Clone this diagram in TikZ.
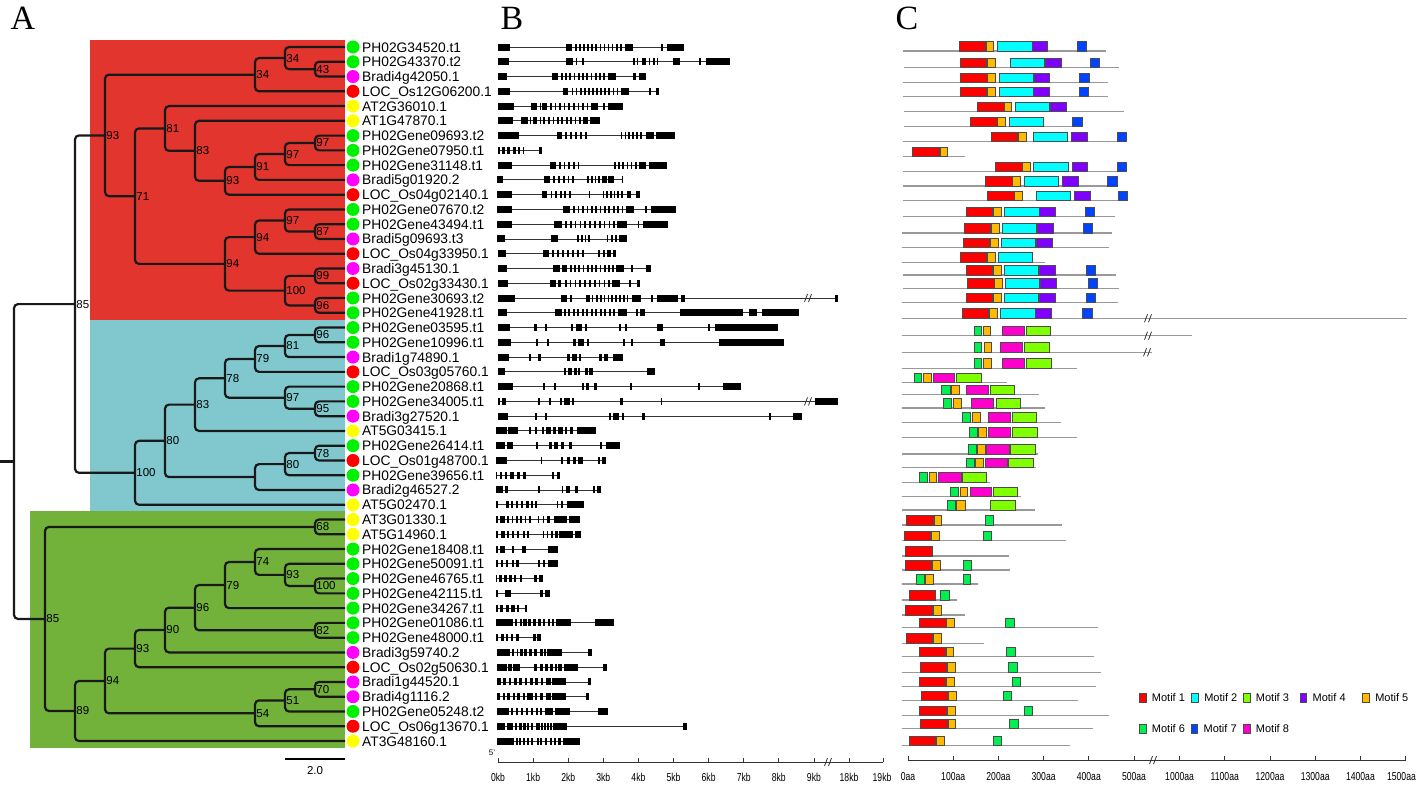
\documentclass[tikz,border=0pt]{standalone}
\usepackage{fontspec}
\setmainfont{Liberation Sans}
\newfontfamily\serifA{Liberation Serif}
\usetikzlibrary{calc}
\definecolor{bgred}{HTML}{E2352E}
\definecolor{bgcyan}{HTML}{80C8CD}
\definecolor{bggreen}{HTML}{72B13A}
\definecolor{dg}{HTML}{00F000}
\definecolor{dm}{HTML}{FF00FF}
\definecolor{dr}{HTML}{FF0000}
\definecolor{dy}{HTML}{FFFF00}
\definecolor{m1}{HTML}{FF0000}
\definecolor{m2}{HTML}{00FFFF}
\definecolor{m3}{HTML}{80FF00}
\definecolor{m4}{HTML}{8000FF}
\definecolor{m5}{HTML}{FFBA00}
\definecolor{m6}{HTML}{00F050}
\definecolor{m7}{HTML}{0044FF}
\definecolor{m8}{HTML}{FF00CC}
\tikzset{
 branch/.style={line width=2.2pt, black!90, rounded corners=4pt},
 blab/.style={anchor=west, inner sep=1.2pt, font=\fontsize{11.5}{13}\selectfont},
 intron/.style={line width=0.9pt, black!80},
 mline/.style={line width=1.4pt, black!40},
 mbox/.style={draw=black!70, line width=0.7pt},
 glab/.style={anchor=base west, inner sep=0pt, font=\fontsize{13.8}{15}\selectfont},
 dot/.style={circle, minimum size=13pt, inner sep=0pt},
 axlab/.style={font=\fontsize{11.5}{13}\selectfont, inner sep=0pt, xscale=0.75},
 leg/.style={anchor=west, inner sep=0pt, font=\fontsize{11}{13}\selectfont},
 brkmark/.style={black!80, line width=0.8pt},
}
\newcommand\tn[5]{%
 \path let \p1=(#3), \p2=(#4) in coordinate (#1) at (#2pt,{(\y1+\y2)/2});
 \draw[branch] (#3) -| (#1) |- (#4);
 \if\relax\detokenize{#5}\relax\else\node[blab] (lab#1) at (#1) {#5};\fi
}
\newcommand\gene[4]{%
 \pgfmathsetmacro\yy{47+(#1-1)*14.766}%
 \draw[intron] (#2,\yy) -- (#3,\yy);%
 \foreach \a/\b in {#4} {\fill[black] (\a,{\yy-3.5}) rectangle (\b,{\yy+3.5});}%
}
\newcommand\thins[4]{%
 \pgfmathsetmacro\yy{47+(#1-1)*14.766}%
 \foreach \j in {1,...,#4} {\pgfmathsetmacro\xa{#2+(\j-1)*(#3-#2-5)/(#4-1)}%
   \fill[black] (\xa,{\yy-3.5}) rectangle ({\xa+5},{\yy+3.5});}%
}
\newcommand\mrow[4]{%
 \draw[mline] (#2,#1) -- (#3,#1);%
 \foreach \cc/\a/\b in {#4} {\filldraw[mbox, fill=\cc] (\a,{#1-9.5}) rectangle (\b,#1);}%
}
\newcommand\brk[2]{%
 \draw[brkmark] ({#1-1.5},{#2+4}) -- ({#1+1.5},{#2-4});
 \draw[brkmark] ({#1+2.5},{#2+4}) -- ({#1+5.5},{#2-4});
}
\newcommand\legitem[5]{%
 \filldraw[mbox, fill=#3] (#1,{#2-4.5}) rectangle ({#1+6.7},{#2+4.5});
 \node[leg] (leg#5) at ({#1+12.4},#2) {#4};
}
\begin{document}
\begin{tikzpicture}[x=1pt,y=-1pt]
\useasboundingbox (0,0) rectangle (1418,785);
\fill[white] (0,0) rectangle (1418,785);
% panel letters
\node[font=\serifA\fontsize{34}{36}\selectfont, inner sep=0pt] (pA) at (23,18) {A};
\node[font=\serifA\fontsize{34}{36}\selectfont, inner sep=0pt] (pB) at (512,18) {B};
\node[font=\serifA\fontsize{34}{36}\selectfont, inner sep=0pt] (pC) at (907,18) {C};
% backgrounds
\fill[bgred] (90,40) rectangle (345,320);
\fill[bgcyan] (90,320) rectangle (345,511);
\fill[bggreen] (30,511) rectangle (345,748);
% leaves
\foreach \i in {1,...,48} {\pgfmathsetmacro\yy{47+(\i-1)*14.766}\coordinate (L\i) at (345,\yy);}
% red clade
\tn{a1}{315}{L2}{L3}{43}
\tn{a2}{285}{L1}{a1}{34}
\tn{a3}{255}{a2}{L4}{34}
\tn{b1}{315}{L7}{L8}{97}
\tn{b2}{285}{b1}{L9}{97}
\tn{b3}{255}{b2}{L10}{91}
\tn{b4}{225}{b3}{L11}{93}
\tn{b5}{195}{L6}{b4}{83}
\tn{b6}{165}{L5}{b5}{81}
\tn{c1}{315}{L13}{L14}{87}
\tn{c2}{285}{L12}{c1}{97}
\tn{c3}{255}{c2}{L15}{94}
\tn{c4}{315}{L16}{L17}{99}
\tn{c5}{315}{L18}{L19}{96}
\tn{c6}{285}{c4}{c5}{100}
\tn{c7}{225}{c3}{c6}{94}
\tn{d1}{135}{b6}{c7}{71}
\tn{nR}{105}{a3}{d1}{93}
% cyan clade
\tn{e1}{315}{L20}{L21}{96}
\tn{e2}{285}{e1}{L22}{81}
\tn{e3}{255}{e2}{L23}{79}
\tn{e4}{315}{L25}{L26}{95}
\tn{e5}{285}{L24}{e4}{97}
\tn{e6}{225}{e3}{e5}{78}
\tn{e7}{195}{e6}{L27}{83}
\tn{f1}{315}{L28}{L29}{78}
\tn{f2}{285}{f1}{L30}{80}
\tn{f3}{255}{f2}{L31}{}
\tn{f4}{165}{e7}{f3}{80}
\tn{nC}{135}{f4}{L32}{100}
\tn{nRC}{75}{nR}{nC}{85}
% green clade
\tn{g1}{315}{L33}{L34}{68}
\tn{h1}{315}{L37}{L38}{100}
\tn{h2}{285}{L36}{h1}{93}
\tn{h3}{255}{L35}{h2}{74}
\tn{h4}{225}{h3}{L39}{79}
\tn{h5}{315}{L40}{L41}{82}
\tn{h6}{195}{h4}{h5}{96}
\tn{h7}{165}{h6}{L42}{90}
\tn{h8}{135}{h7}{L43}{93}
\tn{k1}{315}{L44}{L45}{70}
\tn{k2}{285}{k1}{L46}{51}
\tn{k3}{255}{k2}{L47}{54}
\tn{k4}{105}{h8}{k3}{94}
\tn{k5}{75}{k4}{L48}{89}
\tn{nG}{45}{g1}{k5}{85}
\tn{root}{14}{nRC}{nG}{}
\coordinate (leftedge) at (0,0);
\draw[branch] (root) -- (root -| leftedge);
% scale bar
\coordinate (sb1) at (285,759);
\coordinate (sb2) at (345,759);
\draw[line width=1.8pt] (sb1) -- (sb2);
\node[font=\fontsize{11.5}{13}\selectfont, inner sep=0pt] (sbl) at (315,771) {2.0};
% dots and labels
\foreach \i/\c/\t in {1/dg/PH02G34520.t1, 2/dg/PH02G43370.t2, 3/dm/Bradi4g42050.1, 4/dr/LOC\_Os12G06200.1,
 5/dy/AT2G36010.1, 6/dy/AT1G47870.1, 7/dg/PH02Gene09693.t2, 8/dg/PH02Gene07950.t1, 9/dg/PH02Gene31148.t1,
 10/dm/Bradi5g01920.2, 11/dr/LOC\_Os04g02140.1, 12/dg/PH02Gene07670.t2, 13/dg/PH02Gene43494.t1,
 14/dm/Bradi5g09693.t3, 15/dr/LOC\_Os04g33950.1, 16/dm/Bradi3g45130.1, 17/dr/LOC\_Os02g33430.1,
 18/dg/PH02Gene30693.t2, 19/dg/PH02Gene41928.t1, 20/dg/PH02Gene03595.t1, 21/dg/PH02Gene10996.t1,
 22/dm/Bradi1g74890.1, 23/dr/LOC\_Os03g05760.1, 24/dg/PH02Gene20868.t1, 25/dg/PH02Gene34005.t1,
 26/dm/Bradi3g27520.1, 27/dy/AT5G03415.1, 28/dg/PH02Gene26414.t1, 29/dr/LOC\_Os01g48700.1,
 30/dg/PH02Gene39656.t1, 31/dm/Bradi2g46527.2, 32/dy/AT5G02470.1, 33/dy/AT3G01330.1, 34/dy/AT5G14960.1,
 35/dg/PH02Gene18408.t1, 36/dg/PH02Gene50091.t1, 37/dg/PH02Gene46765.t1, 38/dg/PH02Gene42115.t1,
 39/dg/PH02Gene34267.t1, 40/dg/PH02Gene01086.t1, 41/dg/PH02Gene48000.t1, 42/dm/Bradi3g59740.2,
 43/dr/LOC\_Os02g50630.1, 44/dm/Bradi1g44520.1, 45/dm/Bradi4g1116.2, 46/dg/PH02Gene05248.t2,
 47/dr/LOC\_Os06g13670.1, 48/dy/AT3G48160.1}
 {\pgfmathsetmacro\yy{47+(\i-1)*14.766}
  \node[dot, fill=\c] (d\i) at (353,\yy) {};
  \node[glab] (t\i) at (362,{\yy+5}) {\t};}
% ---------- panel B: gene structures ----------
\begin{scope}[shift={(490,0)}, x=0.333333pt]
\gene{1}{25}{582}{25/60,228/245,405/430,514/519,531/582}\thins{1}{255}{395}{12}
\gene{2}{25}{720}{25/57,228/248,257/261,275/283,430/434,441/445,455/467,478/481,490/494,502/505,548/570,628/632,648/720}
\gene{3}{25}{467}{25/50,185/203,355/378,430/437,447/467}\thins{3}{213}{345}{11}
\gene{4}{25}{507}{25/60,218/235,393/417,477/482,497/507}\thins{4}{245}{385}{12}
\gene{5}{25}{398}{25/72,123/140,150/153,157/170,302/325,340/345,355/398}\thins{5}{180}{295}{9}
\gene{6}{25}{330}{25/68,92/113,120/124,130/140,150/154,160/164,280/293,300/330}\thins{6}{175}{272}{8}
\gene{7}{25}{555}{25/87,200/215,468/492,498/555}\thins{7}{225}{290}{5}\thins{7}{392}{455}{6}
\gene{8}{25}{155}{25/29,36/45,52/61,68/77,84/90,99/103,147/155}
\gene{9}{25}{532}{25/67,180/197,448/468,478/532}\thins{9}{207}{268}{5}\thins{9}{372}{440}{6}
\gene{10}{22}{400}{22/38,162/180,336/350,355/372,395/400}\thins{10}{190}{252}{5}\thins{10}{292}{330}{4}
\gene{11}{22}{450}{22/65,155/172,296/301,410/422,438/450}\thins{11}{182}{242}{5}\thins{11}{338}{398}{6}
\gene{12}{22}{557}{22/65,218/240,408/432,466/471,483/557}\thins{12}{250}{400}{12}
\gene{13}{22}{535}{22/65,192/215,382/410,443/448,458/535}\thins{13}{225}{375}{11}
\gene{14}{22}{412}{22/45,183/205,388/412}\thins{14}{262}{300}{4}\thins{14}{350}{380}{3}
\gene{15}{25}{377}{25/47,158/176,352/362,368/377}\thins{15}{186}{282}{7}\thins{15}{325}{345}{2}
\gene{16}{25}{483}{25/52,190/210,215/232,378/403,423/428,468/483}\thins{16}{240}{372}{11}
\gene{17}{25}{450}{25/55,180/198,205/212,366/390,418/422,440/450}\thins{17}{225}{360}{10}
\gene{18}{25}{1045}{25/75,212/230,240/245,288/300,305/310,425/452,483/490,500/565,572/585,1035/1045}\thins{18}{318}{415}{9}
\gene{19}{25}{928}{25/50,195/215,383/410,437/443,450/466,570/760,778/800,817/928}\thins{19}{222}{375}{12}
\gene{20}{25}{865}{25/60,133/140,165/170,243/250,257/277,285/292,388/394,405/412,500/518,653/660,676/865}
\gene{21}{25}{882}{25/62,138/145,172/178,250/257,265/282,292/298,398/404,422/430,511/525,686/882}
\gene{22}{25}{400}{25/58,117/124,145/152,232/240,245/260,268/274,328/335,343/355,370/400}
\gene{23}{25}{495}{25/44,222/228,233/246,252/260,265/270,285/293,298/310,470/495}
\gene{24}{25}{754}{25/68,160/166,193/199,275/282,287/298,312/320,420/427,623/630,698/754}
\gene{25}{25}{1045}{25/29,37/48,143/150,178/184,210/216,222/240,246/253,390/400,512/517,975/1045}
\gene{26}{25}{937}{25/55,136/142,166/172,357/364,370/388,395/403,457/465,838/844,910/937}
\gene{27}{18}{318}{18/50,53/85,118/124,136/141,156/161,168/182,190/197,205/218,226/232,240/250,262/318}
\gene{28}{18}{390}{18/45,52/68,138/145,178/185,193/205,212/222,237/245,330/336,348/390}
\gene{29}{18}{348}{18/52,152/157,213/220,230/240,250/258,265/280,323/330,337/348}
\gene{30}{18}{210}{18/22,31/35,46/52,60/72,80/90,98/108,187/192,200/210}
\gene{31}{18}{332}{18/38,45/55,145/150,215/220,228/240,255/265,308/314,322/332}
\gene{32}{18}{282}{18/24,47/56,63/70,78/83,92/100,108/116,123/128,135/142,200/205,212/220,232/282}
\gene{33}{18}{270}{18/25,30/45,143/148,158/163,172/180,192/232,238/270}\thins{33}{52}{122}{6}
\gene{34}{18}{272}{18/25,32/45,52/56,65/72,80/88,98/105,112/118,158/163,170/175,182/188,195/205,208/248,255/272}
\gene{35}{18}{204}{18/24,30/45,65/71,95/108,175/204}
\gene{36}{18}{205}{18/25,32/40,48/55,65/72,78/88,145/150,160/165,175/205}
\gene{37}{18}{160}{18/22,28/36,43/51,58/66,72/78,90/95,132/140,148/160}
\gene{38}{18}{180}{18/24,45/62,150/158,165/180}
\gene{39}{18}{112}{18/24,30/40,47/57,64/74,80/88,104/112}
\gene{40}{18}{372}{18/70,75/82,90/95,100/110,115/122,130/138,145/152,160/165,175/180,185/192,198/242,315/372}
\gene{41}{18}{152}{18/25,32/42,48/55,62/70,78/88,130/138,142/152}
\gene{42}{22}{305}{22/60,66/72,80/85,90/98,102/110,118/126,132/140,150/158,162/168,172/215,295/305}
\gene{43}{22}{350}{22/50,55/65,70/90,132/140,150/160,165/175,180/188,195/200,205/215,222/265,340/350}
\gene{44}{22}{303}{22/33,40/48,56/64,72/80,88/96,104/112,120/128,136/144,152/160,168/182,186/228,293/303}
\gene{45}{22}{296}{22/30,38/45,52/60,68/75,82/90,98/105,112/128,135/140,150/160,168/182,186/228,287/296}
\gene{46}{20}{355}{20/58,63/70,78/85,92/100,108/115,122/130,137/145,150/155,165/190,195/240,323/355}
\gene{47}{20}{590}{20/45,50/70,75/80,88/95,100/108,112/118,122/130,138/150,152/158,162/168,172/178,180/185,188/230,580/590}
\gene{48}{22}{270}{22/72,78/84,88/94,100/106,112/118,124/130,140/146,150/156,166/172,180/186,192/198,205/212,220/270}
\end{scope}
\brk{806}{298.0}
\brk{806}{401.4}
% B axis
\coordinate (ba0) at (498,762);
\coordinate (ba1) at (883,762);
\draw[line width=0.8pt, black!80] (ba0) -- (ba1);
\foreach \k in {0,...,9} {\pgfmathsetmacro\xx{498+35.1*\k}
  \draw[line width=0.8pt, black!80] (\xx,762) -- (\xx,758);
  \node[axlab] (bl\k) at (\xx,777) {\k kb};}
\draw[line width=0.8pt, black!80] (849,762) -- (849,758);
\draw[line width=0.8pt, black!80] (883,762) -- (883,758);
\node[axlab] (bl18) at (849,777) {18kb};
\node[axlab] (bl19) at (882,777) {19kb};
\brk{826}{762}
\node[font=\fontsize{8}{9}\selectfont, inner sep=0pt] (five) at (492,753) {5'};
% ---------- panel C: motifs ----------
\begin{scope}[shift={(890,0)}, x=0.333333pt]
\mrow{51.0}{40}{648}{m1/207/285,m5/288/310,m2/322/427,m4/428/473,m7/563/590}
\mrow{67.7}{43}{686}{m1/211/290,m5/293/316,m2/361/464,m4/465/513,m7/602/629}
\mrow{82.7}{40}{653}{m1/212/292,m5/293/316,m2/327/431,m4/432/479,m7/569/597}
\mrow{96.7}{40}{653}{m1/211/290,m5/292/316,m2/327/430,m4/431/479,m7/568/596}
\mrow{111.7}{42}{703}{m1/261/342,m5/343/365,m2/376/479,m4/480/528}
\mrow{126.7}{43}{580}{m1/241/321,m5/323/346,m2/357/461,m7/548/576}
\mrow{141.7}{40}{710}{m1/304/383,m5/385/409,m2/430/533,m4/545/591,m7/681/709}
\mrow{156.7}{40}{225}{m1/68/148,m5/150/173}
\mrow{171.7}{40}{710}{m1/316/396,m5/397/420,m2/431/534,m4/546/593,m7/683/710}
\mrow{186.0}{40}{682}{m1/286/366,m5/368/391,m2/402/506,m4/516/565,m7/652/681}
\mrow{200.7}{40}{715}{m1/291/372,m5/374/396,m2/438/542,m4/552/600,m7/684/713}
\mrow{216.7}{40}{675}{m1/230/308,m5/310/334,m2/343/447,m4/448/496,m7/587/614}
\mrow{233.0}{37}{667}{m1/222/300,m5/303/327,m2/337/440,m4/441/489,m7/579/607}
\mrow{247.7}{37}{658}{m1/220/298,m5/301/325,m2/334/437,m4/438/487}
\mrow{262.3}{37}{465}{m1/211/290,m5/293/316,m2/325/428}
\mrow{275.0}{40}{677}{m1/230/308,m5/310/334,m2/343/446,m4/447/496,m7/588/617}
\mrow{288.3}{40}{687}{m1/232/312,m5/313/337,m2/345/449,m4/450/499,m7/595/623}
\mrow{302.7}{37}{683}{m1/229/307,m5/310/333,m2/343/446,m4/447/496,m7/588/617}
\mrow{318.3}{37}{1550}{m1/218/296,m5/298/322,m2/332/435,m4/436/484,m7/578/606}
\mrow{335.7}{37}{905}{m6/252/275,m5/280/302,m8/337/402,m3/409/482}
\mrow{352.3}{37}{785}{m6/253/275,m5/282/305,m8/332/398,m3/403/479}
\mrow{368.3}{37}{560}{m6/252/275,m5/281/304,m8/338/404,m3/409/484}
\mrow{382.7}{37}{350}{m6/72/95,m5/99/123,m8/130/194,m3/200/274}
\mrow{394.7}{37}{448}{m6/155/180,m5/184/208,m8/228/294,m3/300/374}
\mrow{408.0}{37}{465}{m6/161/185,m5/190/213,m8/245/311,m3/318/392}
\mrow{422.3}{37}{513}{m6/218/242,m5/246/270,m8/294/360,m3/366/440}
\mrow{437.3}{37}{562}{m6/238/262,m5/265/290,m8/294/360,m3/366/441}
\mrow{454.0}{37}{444}{m6/234/258,m5/262/285,m8/290/358,m3/360/435}
\mrow{467.7}{37}{437}{m6/228/252,m5/256/280,m8/285/352,m3/356/430}
\mrow{482.3}{37}{300}{m6/89/113,m5/117/140,m8/146/213,m3/217/290}
\mrow{496.7}{37}{392}{m6/182/206,m5/210/233,m8/240/305,m3/309/383}
\mrow{510.0}{37}{435}{m6/172/196,m5/200/225,m3/301/376}
\mrow{525.0}{37}{515}{m1/50/130,m5/132/155,m6/286/311}
\mrow{540.7}{37}{527}{m1/42/122,m5/124/148,m6/279/303}
\mrow{556.0}{37}{357}{m1/46/126}
\mrow{570.0}{37}{360}{m1/45/125,m5/127/150,m6/220/243}
\mrow{584.0}{37}{265}{m6/78/102,m5/107/131,m6/219/242}
\mrow{600.0}{37}{200}{m1/57/135,m6/152/177}
\mrow{615.0}{37}{225}{m1/47/127,m5/129/153}
\mrow{627.7}{37}{623}{m1/89/168,m5/170/194,m6/347/372}
\mrow{643.3}{37}{283}{m1/48/128,m5/130/153}
\mrow{656.7}{37}{612}{m1/87/166,m5/168/191,m6/350/375}
\mrow{672.3}{37}{632}{m1/91/170,m5/172/197,m6/355/381}
\mrow{686.7}{37}{617}{m1/87/166,m5/168/192,m6/367/391}
\mrow{700.7}{37}{564}{m1/93/172,m5/174/199,m6/340/365}
\mrow{715.7}{37}{656}{m1/89/169,m5/171/196,m6/402/426}
\mrow{728.7}{37}{608}{m1/92/172,m5/174/197,m6/359/384}
\mrow{745.7}{37}{540}{m1/58/137,m5/139/163,m6/310/335}
\end{scope}
\brk{1146}{318.3}
\brk{1146}{335.7}
\brk{1145}{352.3}
% C axis
\coordinate (ca0) at (908,760);
\coordinate (ca1) at (1406,760);
\draw[line width=0.8pt, black!80] (ca0) -- (ca1);
\foreach \k/\lab in {0/0aa,1/100aa,2/200aa,3/300aa,4/400aa,5/500aa} {\pgfmathsetmacro\xx{908+45.2*\k}
  \draw[line width=0.8pt, black!80] (\xx,760) -- (\xx,756);
  \node[axlab] (cl\k) at (\xx,777) {\lab};}
\foreach \k/\lab in {0/1000aa,1/1100aa,2/1200aa,3/1300aa,4/1400aa} {\pgfmathsetmacro\xx{1179.6+45.2*\k}
  \draw[line width=0.8pt, black!80] (\xx,760) -- (\xx,756);
  \node[axlab] (cm\k) at (\xx,777) {\lab};}
\draw[line width=0.8pt, black!80] (1405.6,760) -- (1405.6,756);
\node[axlab, anchor=east] (cm5) at (1416,777) {1500aa};
\brk{1151}{760}
% legend
\legitem{1139.3}{698}{m1}{Motif 1}{1}
\legitem{1191.7}{698}{m2}{Motif 2}{2}
\legitem{1243.3}{698}{m3}{Motif 3}{3}
\legitem{1300}{698}{m4}{Motif 4}{4}
\legitem{1362.7}{698}{m5}{Motif 5}{5}
\legitem{1139.3}{729}{m6}{Motif 6}{6}
\legitem{1191}{729}{m7}{Motif 7}{7}
\legitem{1243.3}{729}{m8}{Motif 8}{8}
\end{tikzpicture}
\end{document}
